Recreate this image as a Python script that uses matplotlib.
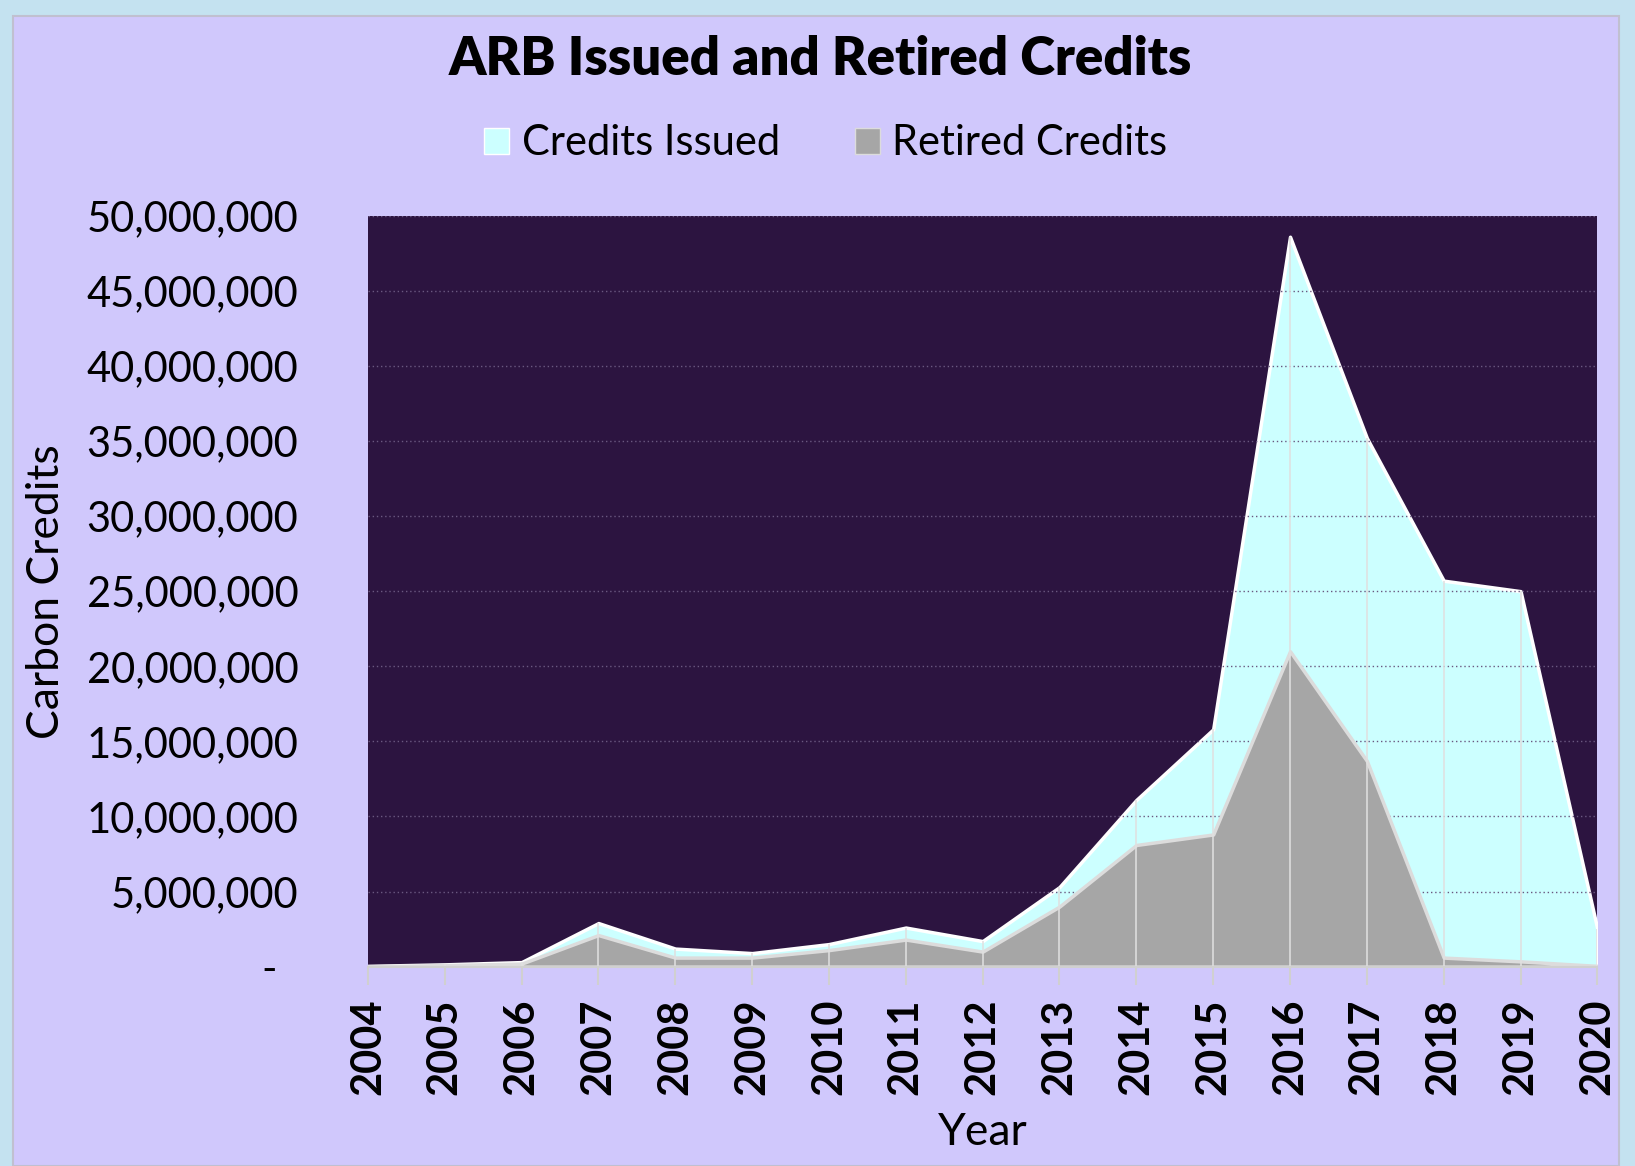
import matplotlib.pyplot as plt
from matplotlib.patches import Patch, Rectangle
from matplotlib.ticker import FuncFormatter

years = list(range(2004, 2021))
credits_issued = [0.05e6, 0.15e6, 0.3e6, 2.9e6, 1.2e6, 0.9e6, 1.5e6, 2.6e6, 1.7e6,
                  5.3e6, 11.1e6, 15.8e6, 48.6e6, 35.2e6, 25.7e6, 25.0e6, 2.5e6]
retired_credits = [0.02e6, 0.1e6, 0.2e6, 2.1e6, 0.6e6, 0.6e6, 1.1e6, 1.8e6, 1.0e6,
                   4.0e6, 8.1e6, 8.8e6, 21.0e6, 13.7e6, 0.6e6, 0.35e6, 0.05e6]

plt.rcParams['font.family'] = ['Lato', 'DejaVu Sans']

fig = plt.figure(figsize=(16.35, 11.66), dpi=100)
fig.patch.set_facecolor('#C4E2F0')
# lavender panel behind the chart
fig.patches.append(Rectangle((0.008, 0.0), 0.982, 0.986, transform=fig.transFigure,
                             facecolor='#D0C8FC', edgecolor='#C0C0D0', lw=1.5, zorder=-5))

ax = fig.add_axes([0.225, 0.171, 0.752, 0.644])
ax.set_zorder(2)
ax.set_facecolor('#2C1440')

ax.fill_between(years, credits_issued, color='#CCFFFF', edgecolor='white', lw=2.5,
                zorder=2, label='Credits Issued')
ax.fill_between(years, retired_credits, color='#A6A6A6', edgecolor='#DCDCDC', lw=2.5,
                zorder=3, label='Retired Credits')
# drop lines at each year
tops = [max(a, b) for a, b in zip(credits_issued, retired_credits)]
ax.vlines(years, 0, tops, color='#E0E0E0', lw=1.4, alpha=0.8, zorder=4)

ax.set_xlim(2004, 2020)
ax.set_ylim(0, 50e6)
ax.set_yticks(range(0, 50_000_001, 5_000_000))
ax.yaxis.set_major_formatter(FuncFormatter(lambda v, p: '-  ' if v == 0 else f'{v:,.0f}'))
ax.set_xticks(years)
ax.set_xticklabels([str(y) for y in years], rotation=90, fontsize=30, fontweight='bold')
ax.tick_params(axis='y', length=0, labelsize=30, pad=50)
ax.tick_params(axis='x', length=13, width=1.5, color='#D0D0D0', pad=10)

ax.grid(axis='y', color='#6A5880', ls=(0, (1, 2)), lw=1, zorder=1)
ax.set_axisbelow(False)
for s in ['left', 'right', 'top']:
    ax.spines[s].set_visible(False)
ax.spines['bottom'].set_color('#D0D0D0')
ax.spines['bottom'].set_linewidth(1.5)
ax.spines['bottom'].set_zorder(5)

ax.set_xlabel('Year', fontsize=32, labelpad=12)
ax.set_ylabel('Carbon Credits', fontsize=32)
ax.yaxis.set_label_coords(-0.245, 0.5)

fig.suptitle('ARB Issued and Retired Credits', x=0.502, y=0.949, va='center',
             fontsize=38, fontweight='heavy')

handles = [Patch(facecolor='#CCFFFF', edgecolor='white'),
           Patch(facecolor='#A6A6A6', edgecolor='#DCDCDC')]
fig.legend(handles, ['Credits Issued', 'Retired Credits'], loc='center',
           bbox_to_anchor=(0.505, 0.877), ncol=2, frameon=False, fontsize=30,
           handlelength=0.6, handleheight=0.6, handletextpad=0.3, columnspacing=1.8)

fig.savefig('out.png', dpi=100, facecolor=fig.get_facecolor())
